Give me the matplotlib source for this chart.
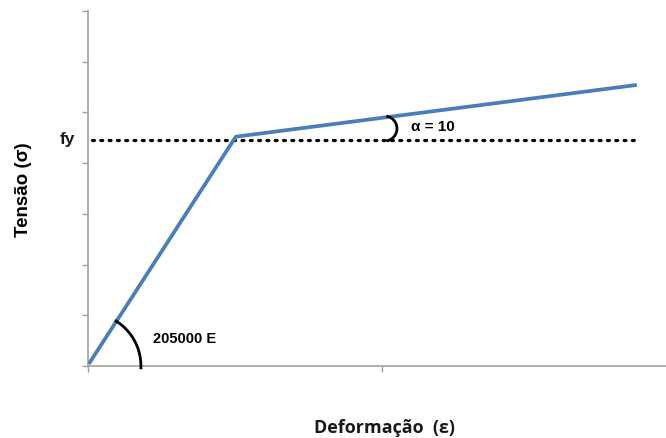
import numpy as np
import matplotlib.pyplot as plt

# bilinear stress-strain curve (axis units)
strain = [0.003, 0.503, 1.867]
stress = [0.04, 4.52, 5.54]

# yield line (fy)
fy = 4.46
fy_start, fy_end = 0.014, 1.864

x_ticks = [0, 1]
y_ticks = [0, 1, 2, 3, 4, 5, 6, 7]

fig = plt.figure(figsize=(6.66, 4.39), dpi=100)
ax = fig.add_axes([0.132, 0.164, 0.868, 0.809])
ax.set_xlim(0, 1.966)
ax.set_ylim(0, 7)

ax.plot(strain, stress, color='#4a7ebb', lw=2.7, solid_capstyle='butt', zorder=3)
ax.plot([fy_start, fy_end], [fy, fy], color='black', lw=2.3,
        linestyle=(0, (0.6, 2.0)), dash_capstyle='round', zorder=2)

# angle arcs, round in pixels (294 px / unit x, 50.7 px / unit y)
sx, sy = 294.0, 50.7


def arc(cx, cy, r, a0, a1):
    t = np.radians(np.linspace(a0, a1, 60))
    ax.plot(cx + r * np.cos(t) / sx, cy + r * np.sin(t) / sy,
            color='black', lw=2.0, zorder=4, clip_on=False)


arc(0, 0, 53, -2, 58)
arc(1.0 + 2.5 / sx, fy + 0.22, 12.5, -75, 75)

ax.text(-0.044, fy + 0.02, 'fy', ha='right', va='center', fontsize=12.5,
        fontweight='bold', family='Liberation Sans', color='#1a1a1a')
ax.text(0.22, 0.55, '205000 E', ha='left', va='center', fontsize=10.5,
        fontweight='bold', family='Liberation Sans')
ax.text(1.10, 4.74, 'α = 10', ha='left', va='center', fontsize=11,
        fontweight='bold', family='Liberation Sans')

ax.set_xticks(x_ticks)
ax.set_yticks(y_ticks)
ax.set_xticklabels([])
ax.set_yticklabels([])
ax.tick_params(direction='out', length=4.5, width=1, color='#a0a0a0')
for s in ['top', 'right']:
    ax.spines[s].set_visible(False)
for s in ['left', 'bottom']:
    ax.spines[s].set_color('#a0a0a0')
    ax.spines[s].set_linewidth(1.2)

fig.text(0.578, 0.025, 'Deformação  (ε)', ha='center', va='center',
         fontsize=13, fontweight='bold', family='Open Sans', color='#1a1a1a')
fig.text(0.036, 0.567, 'Tensão (σ)', ha='center', va='center', rotation=90,
         fontsize=13.5, fontweight='bold', family='Liberation Sans')

fig.savefig('out.png', dpi=100)
